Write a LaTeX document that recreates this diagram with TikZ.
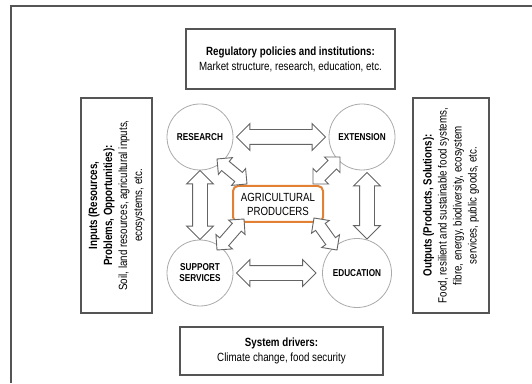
\documentclass[tikz,border=0pt]{standalone}
\usepackage{fontspec}
\setmainfont{Liberation Sans}[FakeStretch=0.82]
\usepackage{tikz}
\usetikzlibrary{shapes.arrows,shapes.geometric,positioning,calc}
\definecolor{boxgray}{RGB}{85,85,85}
\definecolor{ringgray}{RGB}{170,170,170}
\definecolor{arrgray}{RGB}{100,100,100}
\definecolor{prodorange}{RGB}{226,128,52}
\tikzset{
	frameline/.style={draw=boxgray, line width=1.4pt},
	infobox/.style={
		rectangle,
		draw=boxgray, line width=1.1pt,
		fill=white,
		align=center,
		font=\fontsize{11.9}{15}\selectfont},
	actor/.style={
		circle,
		draw=ringgray, line width=0.8pt,
		minimum size=66pt,
		inner sep=0pt,
		align=center,
		font=\fontsize{10}{11}\selectfont\bfseries},
	producer/.style={
		rectangle,
		rounded corners=5pt,
		draw=prodorange, line width=2pt,
		minimum width=90pt,
		minimum height=36pt,
		align=center,
		font=\fontsize{11.8}{14}\selectfont},
	fatarrow/.style={
		double arrow,
		draw=arrgray, line width=0.9pt,
		fill=white,
		inner xsep=0pt, inner ysep=7pt,
		double arrow head extend=6pt},
	thinarrow/.style={fatarrow, inner ysep=5.5pt, double arrow head extend=5pt},
}
% hollow two-headed arrow between two named points
\newcommand{\fatlink}[3][fatarrow]{%
	\path let \p1=(#2), \p2=(#3), \n1={atan2(\y2-\y1,\x2-\x1)},
		\n2={veclen(\x2-\x1,\y2-\y1)} in
		node[#1, minimum height=\n2, rotate=\n1] at ($(#2)!0.5!(#3)$) {};}

\begin{document}
\begin{tikzpicture}[x=1pt, y=1pt]
\useasboundingbox (0,0) rectangle (532,383);
\draw[frameline] (532,377) -- (11,377) -- (11,0);

% surrounding boxes
\node[infobox, minimum width=209pt, minimum height=60pt] (policy) at (290.5,324)
	{\textbf{Regulatory policies and institutions:}\\ Market structure, research, education, etc.};
\node[infobox, minimum width=203pt, minimum height=48pt] (drivers) at (281.5,32)
	{\textbf{System drivers:}\\ Climate change, food security};
\node[infobox, rotate=90, minimum width=215pt, minimum height=71pt] (inputs) at (116.5,177.5)
	{\textbf{Inputs (Resources,}\\ \textbf{Problems, Opportunities):}\\
	 Soil, land resources, agricultural inputs,\\ ecosystems, etc.};
\node[infobox, rotate=90, minimum width=215pt, minimum height=76pt] (outputs) at (451,177.5)
	{\textbf{Outputs (Products, Solutions):}\\ Food, resilient and sustainable food systems,\\
	 fibre, energy, biodiversity, ecosystem\\ services, public goods, etc.};

% actors
\node[actor] (research) at (200,246) {RESEARCH};
\node[actor] (extension) at (362,246) {EXTENSION};
\node[actor] (support) at (200,110) {SUPPORT\\ SERVICES};
\node[actor, minimum size=69pt] (education) at (357,110) {EDUCATION};
\node[producer] (agri) at (278,179) {AGRICULTURAL\\ PRODUCERS};

% arrow ends
\coordinate (re1) at ($(research.east)+(3,0)$);
\coordinate (ex1) at ($(extension.west)+(-3,0)$);
\coordinate (su1) at ($(support.east)+(3,0)$);
\coordinate (ed1) at ($(education.west)+(-6,0)$);
\coordinate (ex2) at ($(extension.south)+(5,-2)$);
\coordinate (ed2) at ($(education.north)+(10,-1)$);
\coordinate (re3) at ($(research)+(17,-22)$);
\coordinate (ex3) at ($(extension)+(-22,-20)$);
\coordinate (su3) at ($(support)+(17,23)$);
\coordinate (ed3) at ($(education)+(-20,23)$);
\coordinate (ag1) at ($(agri.north west)+(15,1)$);
\coordinate (ag2) at ($(agri.north east)+(-11,1)$);
\coordinate (ag3) at ($(agri.south west)+(12,4)$);
\coordinate (ag4) at ($(agri.south east)+(-10,5)$);

\fatlink{re1}{ex1}
\fatlink{su1}{ed1}
\fatlink{research.south}{support.north}
\fatlink{ex2}{ed2}
\fatlink[thinarrow]{re3}{ag1}
\fatlink[thinarrow]{ex3}{ag2}
\fatlink[thinarrow]{su3}{ag3}
\fatlink[thinarrow]{ed3}{ag4}
\end{tikzpicture}
\end{document}
